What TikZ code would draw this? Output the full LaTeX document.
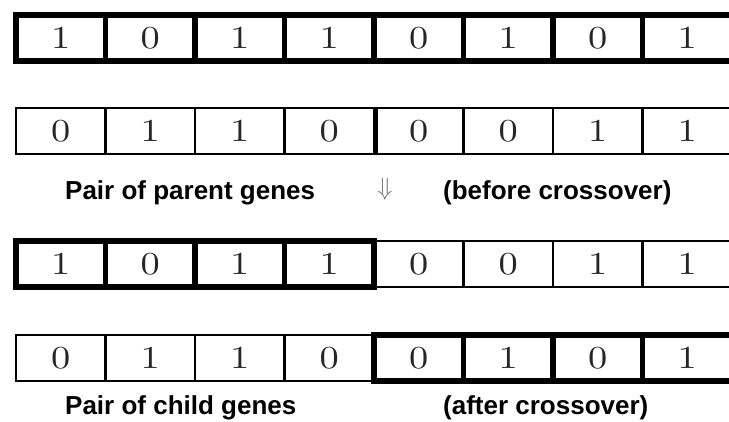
\documentclass[tikz,border=0pt]{standalone}
\usepackage{fontspec}
\newfontfamily\capfont{Liberation Sans}
\newfontfamily\digitfont{lmroman10-regular}[Extension=.otf]
\usetikzlibrary{positioning}

\tikzset{
  gene/.style={draw, minimum width=89.5pt, minimum height=46pt, inner sep=0pt,
    font=\digitfont\fontsize{32}{32}\selectfont, text=black!85},
  thickgene/.style={gene, line width=5.5pt},
  thingene/.style={gene, line width=2.4pt},
  caption/.style={font=\capfont\bfseries\fontsize{26}{26}\selectfont,
    anchor=base west, inner sep=0pt},
}
\newcommand{\bit}[1]{\scalebox{1.2}[1]{#1}}

\begin{document}
\begin{tikzpicture}[x=1pt, y=-1pt]
    \useasboundingbox (0,0) rectangle (729,422);
    \clip (0,0) rectangle (729,422);

    % parents
    \foreach \b [count=\i] in {1,0,1,1,0,1,0,1}
        \node[thickgene] (pa\i) at ({60.75+89.5*(\i-1)}, 38) {\bit{\b}};
    \foreach \b [count=\i] in {0,1,1,0,0,0,1,1}
        \node[thingene] (pb\i) at ({60.75+89.5*(\i-1)}, 131) {\bit{\b}};
    \draw[line width=5pt] (pb4.north east) -- (pb4.south east);

    \node[caption] (parent) at (65, 200) {Pair of parent genes};
    \node[text=black!55, font=\fontsize{26}{26}\selectfont] (arrow) at (385, 189) {$\Downarrow$};
    \node[caption] (before) at (443, 200) {(before crossover)};

    % children: head of one parent, tail of the other
    \foreach \b [count=\i from 5] in {0,0,1,1}
        \node[thingene] (ca\i) at ({60.75+89.5*(\i-1)}, 264) {\bit{\b}};
    \foreach \b [count=\i] in {1,0,1,1}
        \node[thickgene] (ca\i) at ({60.75+89.5*(\i-1)}, 264) {\bit{\b}};
    \foreach \b [count=\i] in {0,1,1,0}
        \node[thingene] (cb\i) at ({60.75+89.5*(\i-1)}, 358) {\bit{\b}};
    \foreach \b [count=\i from 5] in {0,1,0,1}
        \node[thickgene] (cb\i) at ({60.75+89.5*(\i-1)}, 358) {\bit{\b}};

    \node[caption] (child) at (65, 414) {Pair of child genes};
    \node[caption] (after) at (443, 414) {(after crossover)};
\end{tikzpicture}
\end{document}
